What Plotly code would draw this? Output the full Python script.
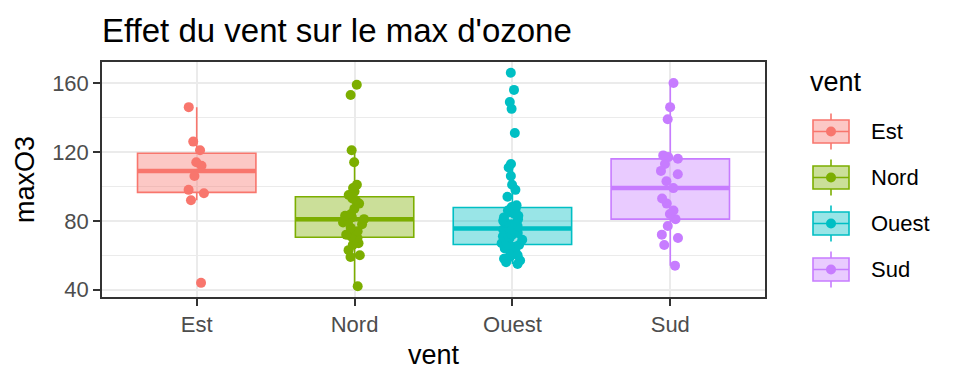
import numpy as np
import plotly.graph_objects as go

# ---- data ----
categories = ["Est", "Nord", "Ouest", "Sud"]
est = [146, 126, 121, 114, 112, 106, 98, 96, 92, 44]
nord = [159, 153, 121, 114, 101, 99, 97, 95, 93, 92, 90, 87, 84, 83, 82, 81,
        80, 79, 78, 76, 74, 72, 71, 70, 69, 67, 66, 63, 60, 59, 42]
ouest = [166, 156, 149, 145, 131, 113, 111, 106, 101, 98, 94, 89, 88, 87, 86,
         85, 84, 83, 82, 81, 80, 79, 78, 77, 76, 75, 75, 74, 74, 73, 72, 71,
         71, 70, 69, 68, 67, 66, 66, 65, 64, 63, 62, 61, 60, 59, 58, 57, 56, 55]
sud = [160, 146, 139, 118, 117, 116, 113, 109, 107, 103, 99, 93, 90, 86, 84,
       81, 77, 72, 70, 66, 54]
series = [est, nord, ouest, sud]
colors = ["#F8766D", "#7CAE00", "#00BFC4", "#C77CFF"]
fills = ["rgba(248,118,109,0.4)", "rgba(124,174,0,0.4)",
         "rgba(0,191,196,0.4)", "rgba(199,124,255,0.4)"]

title = "Effet du vent sur le max d'ozone"
x_title = "vent"
y_title = "maxO3"
y_ticks = [40, 80, 120, 160]

FONT = "Liberation Sans, Arial, sans-serif"
W, H = 960, 384
L, R, T, B = 102, 195, 62, 87

fig = go.Figure()

BW = 0.75
for cat, vals, c, f in zip(categories, series, colors, fills):
    v = np.array(vals, dtype=float)
    q1, med, q3 = np.percentile(v, [25, 50, 75])
    iqr = q3 - q1
    lf = v[v >= q1 - 1.5 * iqr].min()
    uf = v[v <= q3 + 1.5 * iqr].max()
    # box + whiskers
    fig.add_trace(go.Box(
        x=[cat], q1=[q1], median=[med], q3=[q3], lowerfence=[lf], upperfence=[uf],
        width=BW, fillcolor=f, line=dict(color=c, width=1.6), whiskerwidth=0,
        boxpoints=False, showlegend=False, hoverinfo="skip"))
    # thick median
    fig.add_trace(go.Box(
        x=[cat], q1=[med], median=[med], q3=[med], lowerfence=[med], upperfence=[med],
        width=BW, fillcolor="rgba(0,0,0,0)", line=dict(color=c, width=4.5),
        whiskerwidth=0, boxpoints=False, showlegend=False, hoverinfo="skip"))
    # jittered points
    fig.add_trace(go.Box(
        x=[cat] * len(vals), y=vals, boxpoints="all", jitter=0.2, pointpos=0,
        width=BW, fillcolor="rgba(0,0,0,0)", line=dict(color="rgba(0,0,0,0)", width=0),
        whiskerwidth=0, marker=dict(color=c, size=10, opacity=1),
        showlegend=False, name=cat))

allv = np.concatenate([np.array(s, dtype=float) for s in series])
span = allv.max() - allv.min()
yr = [allv.min() - 0.05 * span, allv.max() + 0.05 * span]

fig.update_layout(
    width=W, height=H,
    margin=dict(l=L, r=R, t=T, b=B),
    paper_bgcolor="white", plot_bgcolor="white",
    boxmode="overlay",
    font=dict(family=FONT, color="black"),
    title=dict(text=title, x=0, xref="paper", xanchor="left",
               y=1 - 30 / H, yref="container", yanchor="middle",
               font=dict(size=33, color="black", family=FONT)),
    xaxis=dict(
        type="category", categoryorder="array", categoryarray=categories,
        range=[-0.6, 3.6], showgrid=True, gridcolor="#EBEBEB", gridwidth=1.5,
        showline=True, mirror=True, linecolor="#333333", linewidth=1.5,
        ticks="outside", ticklen=7, tickwidth=1.5, tickcolor="#333333",
        tickfont=dict(size=22, color="#4D4D4D"),
        title=dict(text=x_title, font=dict(size=27, color="black"), standoff=9),
        zeroline=False),
    yaxis=dict(
        range=yr, tickvals=y_ticks, showgrid=True, gridcolor="#EBEBEB", gridwidth=1.5,
        minor=dict(dtick=20, tick0=0, showgrid=True, gridcolor="#EBEBEB", gridwidth=0.8),
        showline=True, mirror=True, linecolor="#333333", linewidth=1.5,
        ticks="outside", ticklen=7, tickwidth=1.5, tickcolor="#333333",
        tickfont=dict(size=22, color="#4D4D4D"),
        title=dict(text=y_title, font=dict(size=27, color="black"), standoff=10),
        zeroline=False),
)

# ---- custom ggplot-like legend ----
PW, PH = W - L - R, H - T - B
def pxx(px):
    return (px - L) / PW
def pyy(py):
    return (H - B - py) / PH

fig.add_annotation(text="vent", xref="paper", yref="paper", x=pxx(808), y=pyy(82),
                   xanchor="left", yanchor="middle", showarrow=False,
                   font=dict(size=27, color="black", family=FONT))
for i, (cat, c, f) in enumerate(zip(categories, colors, fills)):
    cy = 131.5 + 46 * i
    x0, x1, xc = 813, 849, 831
    fig.add_shape(type="line", xref="paper", yref="paper",
                  x0=pxx(xc), x1=pxx(xc), y0=pyy(cy - 18), y1=pyy(cy + 18),
                  line=dict(color=c, width=1.6))
    fig.add_shape(type="rect", xref="paper", yref="paper",
                  x0=pxx(x0), x1=pxx(x1), y0=pyy(cy - 11.5), y1=pyy(cy + 11.5),
                  fillcolor="white", line=dict(width=0))
    fig.add_shape(type="rect", xref="paper", yref="paper",
                  x0=pxx(x0), x1=pxx(x1), y0=pyy(cy - 11.5), y1=pyy(cy + 11.5),
                  fillcolor=f, line=dict(color=c, width=1.6))
    fig.add_shape(type="line", xref="paper", yref="paper",
                  x0=pxx(x0), x1=pxx(x1), y0=pyy(cy), y1=pyy(cy),
                  line=dict(color=c, width=1.6))
    fig.add_shape(type="circle", xref="paper", yref="paper",
                  x0=pxx(xc - 5), x1=pxx(xc + 5), y0=pyy(cy - 5), y1=pyy(cy + 5),
                  fillcolor=c, line=dict(width=0))
    fig.add_annotation(text=cat, xref="paper", yref="paper", x=pxx(869), y=pyy(cy),
                       xanchor="left", yanchor="middle", showarrow=False,
                       font=dict(size=22, color="black", family=FONT))

fig.write_html("out.html", config={"displayModeBar": False},
               post_script="document.body.style.margin='0';document.body.style.padding='0';")
